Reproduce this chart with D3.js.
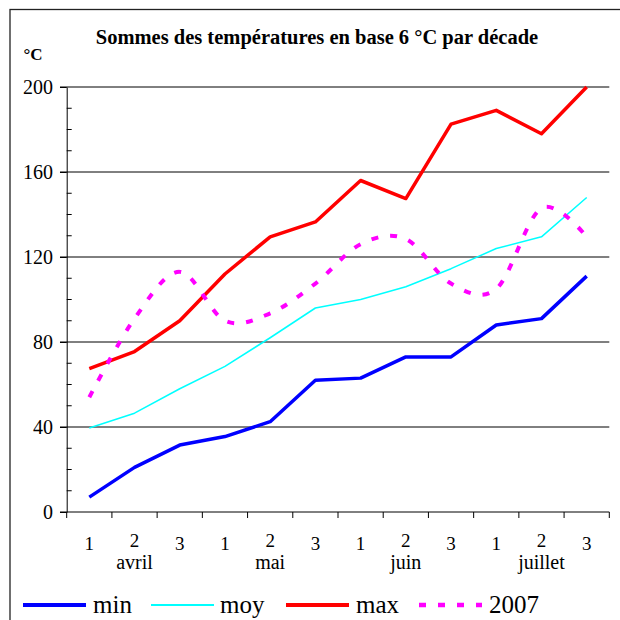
<!DOCTYPE html>
<html lang="fr">
<head>
<meta charset="UTF-8">
<title>Sommes des températures</title>
<script src="https://d3js.org/d3.v7.min.js"></script>
<style>
  body { margin: 0; background: #fff; }
  svg { display: block; }
  svg text { font-family: "Liberation Serif", "Times New Roman", serif; }
</style>
</head>
<body>
<div id="chart"></div>
<script>
// valeurs (sommes en base 6 °C par décade)
const decades = ["1", "2", "3", "1", "2", "3", "1", "2", "3", "1", "2", "3"];
const months = ["avril", "mai", "juin", "juillet"];
const minVals = [7, 21, 31.5, 35.5, 42.5, 62, 63, 73, 73, 88, 91, 111];
const moyVals = [39.5, 46.5, 58, 68.5, 82, 96, 100, 106, 114.5, 124, 129.5, 148];
const maxVals = [67.5, 75.5, 90, 112, 129.5, 136.5, 156, 147.5, 182.5, 189, 178, 200];
const vals2007 = [54, 91, 113, 90, 93.5, 107.5, 126, 128.5, 107.5, 105, 143, 129.5];
const yTicks = [0, 40, 80, 120, 160, 200];

const W = 620, H = 620;
const plotL = 66.7, plotR = 609.3, plotT = 87, plotB = 512;
const serif = "Liberation Serif, Times New Roman, serif";

const svg = d3.select("#chart").append("svg")
    .attr("width", W)
    .attr("height", H)
    .attr("font-family", serif);

// cadre (dépasse à droite et en bas)
svg.append("rect")
    .attr("x", 10).attr("y", 9.5)
    .attr("width", 700).attr("height", 700)
    .attr("fill", "none")
    .attr("stroke", "#222")
    .attr("stroke-width", 1.3);

const x = d3.scaleBand()
    .domain(d3.range(decades.length))
    .range([plotL, plotR])
    .paddingInner(0).paddingOuter(0);

const y = d3.scaleLinear().domain([0, 200]).range([plotB, plotT]);

const cx = i => x(i) + x.bandwidth() / 2;

// titre
svg.append("text")
    .attr("x", 317).attr("y", 44)
    .attr("text-anchor", "middle")
    .attr("font-weight", "bold")
    .attr("font-size", 20.5)
    .text("Sommes des températures en base 6 °C par décade");

svg.append("text")
    .attr("x", 33).attr("y", 60)
    .attr("text-anchor", "middle")
    .attr("font-weight", "bold")
    .attr("font-size", 17)
    .text("°C");

// grille horizontale
svg.append("g")
  .selectAll("line")
  .data(yTicks.filter(d => d > 0))
  .join("line")
    .attr("x1", 60).attr("x2", plotR)
    .attr("y1", d => y(d)).attr("y2", d => y(d))
    .attr("stroke", "#000").attr("stroke-width", 1);

// axe Y
const yAxis = svg.append("g")
    .attr("transform", `translate(${plotL},0)`)
    .call(d3.axisLeft(y).tickValues(yTicks).tickSize(6.7).tickPadding(7).tickSizeOuter(0));
yAxis.attr("font-family", serif).attr("font-size", 20);
yAxis.select(".domain").attr("stroke", "#000");
yAxis.selectAll("text")
    .attr("fill", "#000")
    .attr("dy", "0.33em");

// petites graduations (intérieures)
svg.append("g")
  .selectAll("line")
  .data(d3.range(0, 201, 10).filter(d => d % 40 !== 0))
  .join("line")
    .attr("x1", plotL).attr("x2", plotL + 5)
    .attr("y1", d => y(d)).attr("y2", d => y(d))
    .attr("stroke", "#000");

// axe X
svg.append("line")
    .attr("x1", 60).attr("x2", plotR)
    .attr("y1", plotB).attr("y2", plotB)
    .attr("stroke", "#000");

svg.append("g")
  .selectAll("line")
  .data(d3.range(decades.length + 1))
  .join("line")
    .attr("x1", d => plotL + d * x.bandwidth())
    .attr("x2", d => plotL + d * x.bandwidth())
    .attr("y1", plotB).attr("y2", plotB + 6)
    .attr("stroke", "#000");

svg.append("g")
  .selectAll("text")
  .data(decades)
  .join("text")
    .attr("x", (d, i) => cx(i))
    .attr("y", (d, i) => d === "2" ? 547 : 550)
    .attr("text-anchor", "middle")
    .attr("font-size", 19)
    .text(d => d);

svg.append("g")
  .selectAll("text")
  .data(months)
  .join("text")
    .attr("x", (d, i) => cx(i * 3 + 1))
    .attr("y", 569)
    .attr("text-anchor", "middle")
    .attr("font-size", 20)
    .text(d => d);

// séries
const line = d3.line().x((d, i) => cx(i)).y(d => y(d));
const smooth = d3.line().x((d, i) => cx(i)).y(d => y(d)).curve(d3.curveCardinal.tension(0));

const series = [
  { name: "min", values: minVals, color: "#0000ff", width: 3.5, dash: null, gen: line },
  { name: "moy", values: moyVals, color: "#00ffff", width: 1.5, dash: null, gen: line },
  { name: "max", values: maxVals, color: "#ff0000", width: 3.5, dash: null, gen: line },
  { name: "2007", values: vals2007, color: "#ff00ff", width: 4, dash: "7,12", gen: smooth }
];

svg.append("g")
  .selectAll("path")
  .data(series)
  .join("path")
    .attr("d", d => d.gen(d.values))
    .attr("fill", "none")
    .attr("stroke", d => d.color)
    .attr("stroke-width", d => d.width)
    .attr("stroke-dasharray", d => d.dash)
    .attr("stroke-linejoin", "round");

// légende
const legX = [23, 151, 286, 419];
const leg = svg.append("g")
  .selectAll("g")
  .data(series)
  .join("g")
    .attr("transform", (d, i) => `translate(${legX[i]},605)`);

leg.append("line")
    .attr("x1", 0).attr("x2", 63)
    .attr("stroke", d => d.color)
    .attr("stroke-width", d => d.width + 0.5)
    .attr("stroke-dasharray", d => d.dash);

leg.append("text")
    .attr("x", (d, i) => i === 1 ? 69 : 70)
    .attr("y", 8)
    .attr("font-size", 25)
    .text(d => d.name);
</script>
</body>
</html>
